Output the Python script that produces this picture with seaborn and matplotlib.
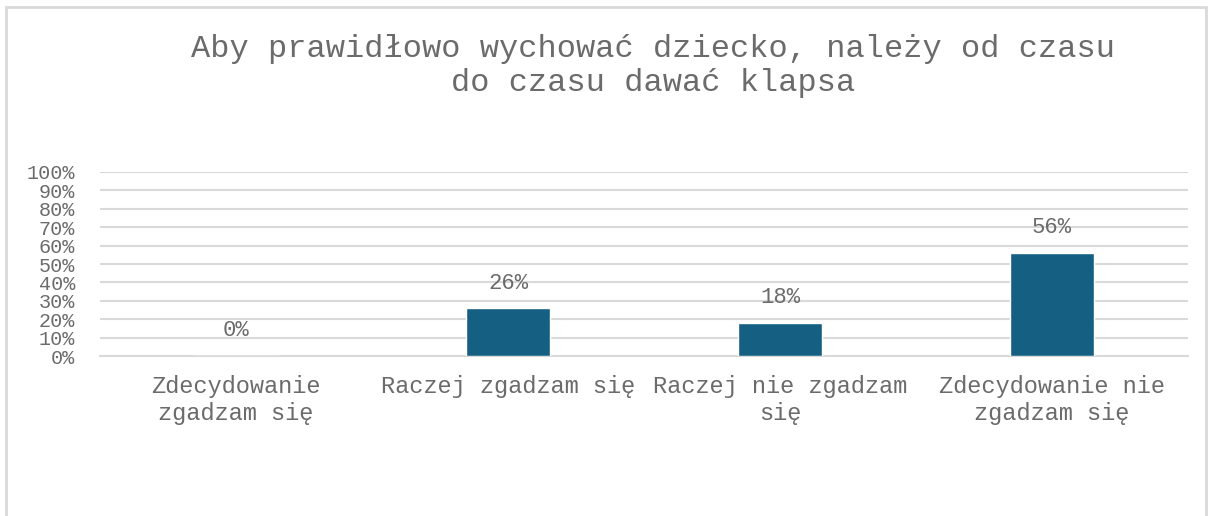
import matplotlib
matplotlib.use("Agg")
import matplotlib.pyplot as plt
import seaborn as sns
import pandas as pd
from matplotlib.patches import Rectangle
from matplotlib.ticker import FuncFormatter

# --- DANE ---
kategorie = ["Zdecydowanie\nzgadzam się", "Raczej zgadzam się",
             "Raczej nie zgadzam\nsię", "Zdecydowanie nie\nzgadzam się"]
wartosci = [0, 26, 18, 56]
tytul = "Aby prawidłowo wychować dziecko, należy od czasu\ndo czasu dawać klapsa"

KOLOR = "#156082"
SZARY = "#6b6b6b"

sns.set_theme(style="white")
plt.rcParams["font.family"] = ["Liberation Mono", "DejaVu Sans Mono"]

df = pd.DataFrame({"kat": kategorie, "val": wartosci})

fig = plt.figure(figsize=(12.13, 5.16), dpi=100)
ax = fig.add_axes([100 / 1213, 1 - 356 / 516, 1088 / 1213, 184 / 516])

sns.barplot(data=df, x="kat", y="val", color=KOLOR, width=0.31,
            saturation=1, ax=ax, zorder=3)

ax.set_ylim(0, 100)
ax.set_xlim(-0.5, 3.5)
ax.set_yticks(range(0, 101, 10))
ax.yaxis.set_major_formatter(FuncFormatter(lambda v, p: f"{int(v)}%"))
ax.grid(axis="y", color="#d9d9d9", linewidth=1.5, zorder=0)
ax.set_axisbelow(True)
for s in ["top", "right", "left"]:
    ax.spines[s].set_visible(False)
ax.spines["bottom"].set_color("#d9d9d9")
ax.spines["bottom"].set_linewidth(1.5)
ax.tick_params(axis="y", labelsize=14.5, colors=SZARY, length=0, pad=18)
ax.tick_params(axis="x", labelsize=17, colors=SZARY, length=0, pad=14)
ax.set_xlabel("")
ax.set_ylabel("")

for i, v in enumerate(wartosci):
    ax.annotate(f"{v}%", (i, v), xytext=(0, 18), textcoords="offset points",
                ha="center", va="center", fontsize=16, color=SZARY, zorder=4)

fig.text(653 / 1213, 1 - 66 / 516, tytul, ha="center", va="center",
         fontsize=23, color=SZARY, linespacing=1.15)

# ramka wykresu
fig.patches.append(Rectangle((6 / 1213, -0.1), 1200 / 1213, 1.1 - 7 / 516,
                             transform=fig.transFigure, fill=False,
                             edgecolor="#d9d9d9", linewidth=2))

fig.savefig("out.png", dpi=100)
